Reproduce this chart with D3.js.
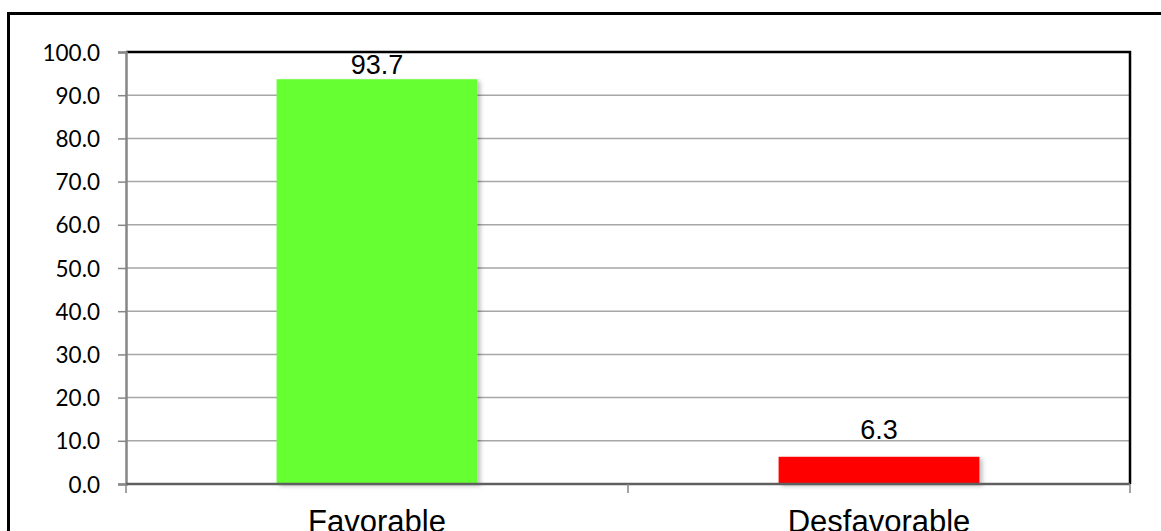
<!DOCTYPE html>
<html>
<head>
<meta charset="utf-8">
<script src="https://cdn.jsdelivr.net/npm/d3@7"></script>
<style>
  html, body { margin: 0; padding: 0; background: #fff; }
  svg { display: block; }
</style>
</head>
<body>
<svg id="chart" width="1161" height="531"></svg>
<script>
// Chart data
const categories = ["Favorable", "Desfavorable"];
const values = [93.7, 6.3];
const barColors = ["#66ff33", "#ff0000"];
const yTicks = [0, 10, 20, 30, 40, 50, 60, 70, 80, 90, 100];

const svg = d3.select("#chart");
const W = 1161, H = 531;
const plot = { left: 126, top: 52, right: 1130, bottom: 484 };

// Outer frame (runs past the bottom and right edges)
svg.append("path")
  .attr("d", `M8.5,${H + 5} V13.5 H${W + 5}`)
  .attr("fill", "none")
  .attr("stroke", "#000")
  .attr("stroke-width", 3);

const defs = svg.append("defs");
const shadow = defs.append("filter").attr("id", "barShadow")
  .attr("x", "-10%").attr("y", "-10%").attr("width", "130%").attr("height", "130%");
shadow.append("feDropShadow")
  .attr("dx", 3).attr("dy", 2).attr("stdDeviation", 2)
  .attr("flood-color", "#000").attr("flood-opacity", 0.25);

const x = d3.scaleBand()
  .domain(categories)
  .range([plot.left, plot.right])
  .paddingInner(0.6)
  .paddingOuter(0.3);

const xCat = d3.scaleBand()
  .domain(categories)
  .range([plot.left, plot.right])
  .padding(0);

const y = d3.scaleLinear()
  .domain([0, 100])
  .range([plot.bottom, plot.top]);

// Horizontal gridlines
svg.append("g")
  .selectAll("line")
  .data(yTicks.filter(t => t > 0 && t < 100))
  .join("line")
  .attr("x1", plot.left).attr("x2", plot.right)
  .attr("y1", d => y(d)).attr("y2", d => y(d))
  .attr("stroke", "#a6a6a6")
  .attr("stroke-width", 1.5);

// Top and right plot borders
svg.append("path")
  .attr("d", `M${plot.left},${plot.top} H${plot.right} V${plot.bottom}`)
  .attr("fill", "none")
  .attr("stroke", "#000")
  .attr("stroke-width", 2.5);

// Bars
svg.append("g")
  .selectAll("rect")
  .data(values)
  .join("rect")
  .attr("x", (d, i) => x(categories[i]))
  .attr("width", x.bandwidth())
  .attr("y", d => y(d))
  .attr("height", d => y(0) - y(d))
  .attr("fill", (d, i) => barColors[i])
  .attr("filter", "url(#barShadow)");

// Y axis
const yAxis = svg.append("g")
  .attr("transform", `translate(${plot.left},0)`)
  .call(d3.axisLeft(y).tickValues(yTicks).tickFormat(d3.format(".1f")).tickSize(8).tickPadding(18));
yAxis.select(".domain").attr("stroke", "#868686").attr("stroke-width", 2.5);
yAxis.selectAll(".tick line").attr("stroke", "#868686").attr("stroke-width", 1.5);
yAxis.selectAll(".tick text")
  .attr("fill", "#000")
  .attr("font-family", "Lato, 'Open Sans', sans-serif")
  .attr("font-size", 22.5)
  .attr("dy", "0.36em");

// X axis: ticks sit on category boundaries
const xAxis = svg.append("g")
  .attr("transform", `translate(0,${plot.bottom})`);
xAxis.append("line")
  .attr("x1", plot.left).attr("x2", plot.right)
  .attr("stroke", "#5f5f5f").attr("stroke-width", 2.5);
const boundaries = categories.map(c => xCat(c)).concat([xCat(categories[categories.length - 1]) + xCat.bandwidth()]);
xAxis.selectAll("line.tick")
  .data(boundaries)
  .join("line")
  .attr("class", "tick")
  .attr("x1", d => d).attr("x2", d => d)
  .attr("y1", 0).attr("y2", 9)
  .attr("stroke", "#868686").attr("stroke-width", 1.5);
xAxis.selectAll("text")
  .data(categories)
  .join("text")
  .attr("x", d => xCat(d) + xCat.bandwidth() / 2)
  .attr("y", 48)
  .attr("text-anchor", "middle")
  .attr("font-family", "'Liberation Sans', Arial, sans-serif")
  .attr("font-size", 31)
  .attr("fill", "#000")
  .text(d => d);

// Value labels above bars, kept inside the plot area
svg.append("g")
  .selectAll("text")
  .data(values)
  .join("text")
  .attr("x", (d, i) => x(categories[i]) + x.bandwidth() / 2)
  .attr("y", d => Math.max(y(d) - 18, plot.top + 22))
  .attr("text-anchor", "middle")
  .attr("font-family", "'Liberation Sans', Arial, sans-serif")
  .attr("font-size", 27)
  .attr("fill", "#000")
  .text(d => d3.format(".1f")(d));
</script>
</body>
</html>
